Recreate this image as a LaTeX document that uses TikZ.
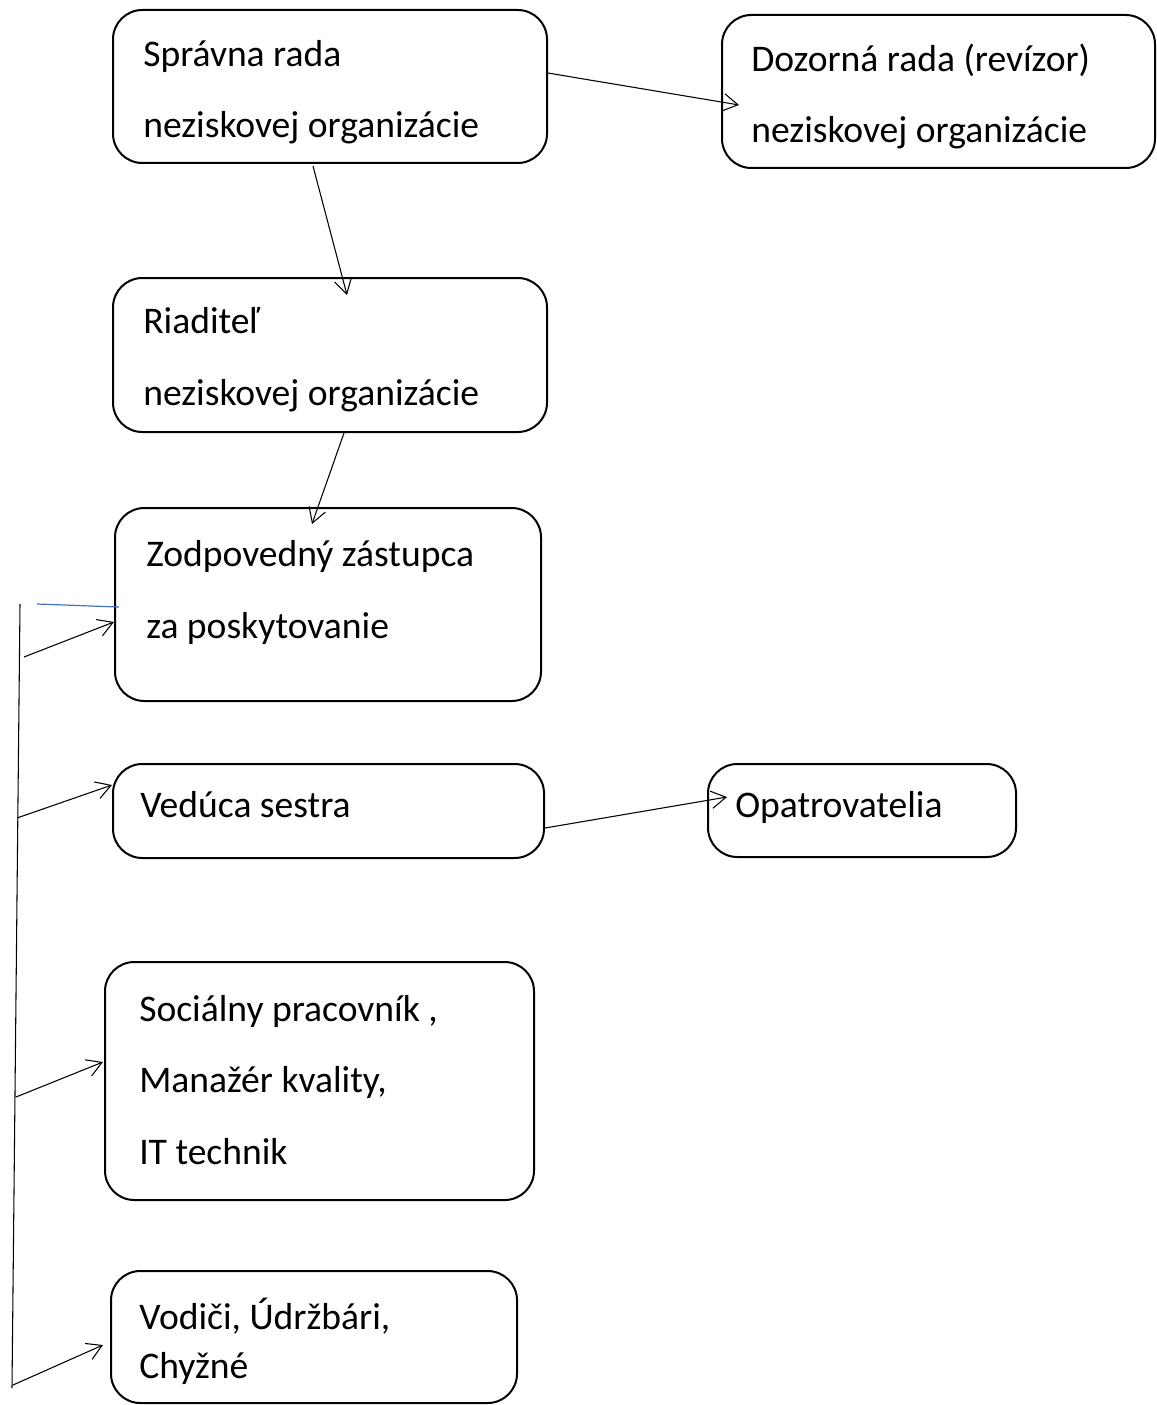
\documentclass[tikz,border=0pt]{standalone}
\usepackage{fontspec}
\setmainfont{Carlito}
\usetikzlibrary{
  arrows.meta,
  fit
}
\definecolor{officeblue}{RGB}{68,114,196}

\begin{document}
\begin{tikzpicture}[
  x=0.75pt,
  y=-0.75pt,
  box/.style={
    draw,
    rectangle,
    rounded corners=22pt,
    line width=1.5pt,
    fill=none,
    inner sep=0pt,
  },
  txt/.style={
    anchor=base west,
    align=left,
    inner sep=0pt,
    font=\fontsize{28.2}{53.5}\selectfont,
  },
  link/.style={
    ->,
    line width=0.8pt,
  },
  >={Straight Barb[length=11pt,width=13pt]}
]

\useasboundingbox (0,0) rectangle (1156,1405);

% Boxes
\node[box, fit={(113,10) (547,163)}] (spr) {};
\node[box, fit={(722,15) (1155,168)}] (doz) {};
\node[box, fit={(113,278) (547,432)}] (rid) {};
\node[box, fit={(115,508) (541,701)}] (zod) {};
\node[box, fit={(113,764) (544,858)}] (ved) {};
\node[box, fit={(708,764) (1016,857)}] (opa) {};
\node[box, fit={(105,962) (534,1200)}] (soc) {};
\node[box, fit={(111,1271) (517,1403)}] (vod) {};

% Text (placed by the baseline of the last line)
\node[txt] (spr-t) at (143,138) {Správna rada\\neziskovej organizácie};
\node[txt] (doz-t) at (751,143) {Dozorná rada (revízor)\\neziskovej organizácie};
\node[txt] (rid-t) at (143,405) {Riaditeľ\\neziskovej organizácie};
\node[txt] (zod-t) at (146,638) {Zodpovedný zástupca\\za poskytovanie};
\node[txt] (ved-t) at (140,817) {Vedúca sestra};
\node[txt] (opa-t) at (735,817) {Opatrovatelia};
\node[txt] (soc-t) at (139,1164) {Sociálny pracovník ,\\Manažér kvality,\\IT technik};
\node[txt, font=\fontsize{28.2}{36.75}\selectfont] (vod-t) at (139,1378) {Vodiči, Údržbári,\\Chyžné};

% Arrows
\draw[link] ([yshift=10.1pt]spr.east) -- ([xshift=13.5pt,yshift=-10.1pt]doz.west);
\draw[link] ([xshift=-12.75pt,yshift=-1.5pt]spr.south) -- ([xshift=12.75pt,yshift=-13.5pt]rid.north);
\draw[link] ([xshift=10.5pt]rid.south) -- ([xshift=-12pt,yshift=-12.75pt]zod.north);
\draw[link] ([yshift=-12.75pt]ved.east) -- ([xshift=15pt,yshift=10.1pt]opa.west);

% Left side
\coordinate (top) at (20,604);
\coordinate (bot) at (12,1388);
\coordinate (b1) at (24,657);
\coordinate (b2) at (17,818);
\coordinate (b3) at (16,1097);
\coordinate (b4) at (13,1385);
\coordinate (bl) at (37,604);

\draw[line width=0.8pt] (top) -- (bot);
\draw[officeblue, line width=0.9pt] (bl) -- ([xshift=3.75pt,yshift=-1.9pt]zod.west);
\draw[link] (b1) -- ([yshift=-13.1pt]zod.west);
\draw[link] (b2) -- ([yshift=19.5pt]ved.west);
\draw[link] (b3) -- ([xshift=-0.75pt,yshift=14.25pt]soc.west);
\draw[link] (b4) -- ([xshift=-5.25pt,yshift=-6pt]vod.west);

\end{tikzpicture}
\end{document}
